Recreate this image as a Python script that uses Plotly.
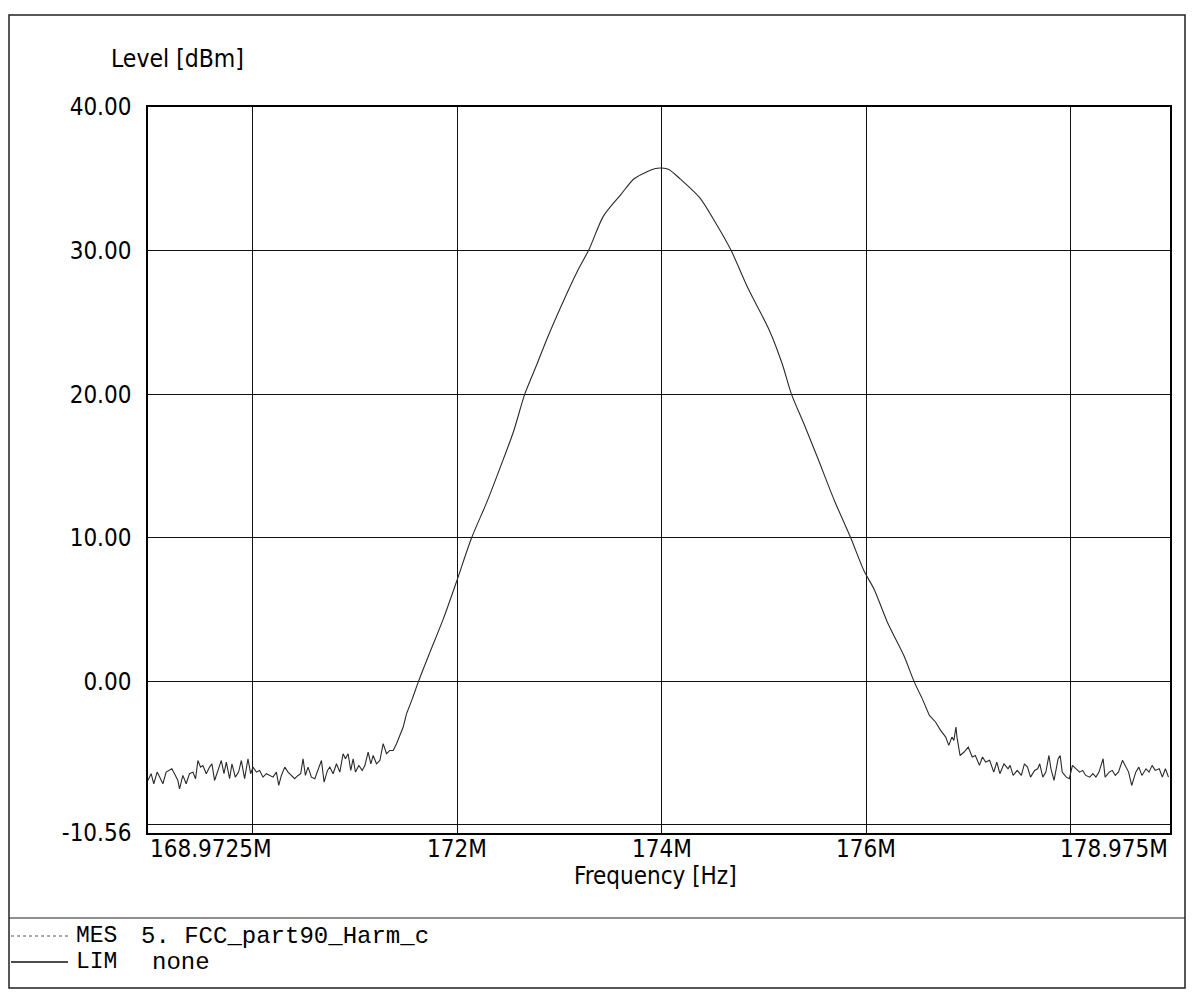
import plotly.graph_objects as go

# ---------------- data ----------------
freq_mhz = [
    168.971, 169.003, 169.029, 169.062, 169.095, 169.118, 169.150, 169.183, 169.206, 169.232,
    169.265, 169.281, 169.314, 169.346, 169.379, 169.412, 169.438, 169.461, 169.487, 169.510,
    169.543, 169.575, 169.598, 169.624, 169.657, 169.690, 169.716, 169.739, 169.771, 169.794,
    169.827, 169.859, 169.886, 169.918, 169.951, 169.977, 170.000, 170.033, 170.065, 170.098,
    170.131, 170.163, 170.196, 170.229, 170.252, 170.278, 170.311, 170.343, 170.376, 170.408,
    170.441, 170.467, 170.490, 170.513, 170.539, 170.572, 170.605, 170.637, 170.670, 170.696,
    170.729, 170.752, 170.784, 170.817, 170.850, 170.882, 170.905, 170.931, 170.957, 170.980,
    171.003, 171.036, 171.069, 171.095, 171.127, 171.154, 171.176, 171.209, 171.242, 171.274,
    171.307, 171.340, 171.372, 171.405, 171.438, 171.470, 171.503,
    171.56, 171.62, 171.73, 171.86, 171.99, 172.14, 172.29, 172.42, 172.55, 172.66,
    172.78, 172.88, 173.02, 173.17, 173.29, 173.43, 173.60, 173.73, 173.86, 173.94,
    174.00, 174.07, 174.18, 174.37, 174.53, 174.68, 174.85, 175.05, 175.18, 175.27,
    175.40, 175.53, 175.69, 175.85, 175.98, 176.08, 176.21, 176.37, 176.47, 176.55,
    176.62, 176.68, 176.73, 176.78, 176.81, 176.84, 176.86, 176.88, 176.89, 176.92,
    176.96, 177.00, 177.04, 177.07, 177.11, 177.14, 177.17, 177.21, 177.25, 177.28,
    177.31, 177.35, 177.39, 177.41, 177.44, 177.48, 177.52, 177.55, 177.58, 177.61,
    177.65, 177.68, 177.70, 177.73, 177.76, 177.79, 177.81, 177.84, 177.88, 177.90,
    177.92, 177.96, 177.99, 178.02, 178.06, 178.09, 178.12, 178.15, 178.19, 178.22,
    178.25, 178.28, 178.32, 178.34, 178.38, 178.41, 178.44, 178.47, 178.51, 178.54,
    178.57, 178.60, 178.64, 178.67, 178.70, 178.74, 178.77, 178.80, 178.83, 178.87,
    178.90, 178.93, 178.96,
]
level_dbm = [
    -6.90, -6.43, -7.13, -6.32, -6.78, -7.13, -6.32, -6.20, -6.08, -6.43,
    -6.90, -7.48, -6.55, -7.13, -6.43, -6.32, -6.78, -5.51, -5.97, -5.86,
    -6.43, -5.97, -5.74, -6.90, -6.20, -5.51, -6.43, -5.62, -6.78, -5.74,
    -6.67, -6.32, -5.51, -6.78, -5.39, -6.43, -5.97, -6.32, -6.20, -6.67,
    -6.43, -6.55, -6.67, -6.32, -7.25, -6.55, -5.97, -6.32, -6.55, -6.78,
    -6.55, -6.43, -5.39, -6.55, -5.97, -6.67, -6.78, -6.20, -5.51, -7.02,
    -6.20, -5.97, -6.43, -5.74, -6.32, -5.04, -5.39, -5.04, -6.20, -5.39,
    -6.32, -5.86, -6.20, -5.86, -4.93, -5.74, -5.16, -5.74, -5.51, -4.34,
    -5.04, -4.81, -4.81, -4.34, -3.76, -3.18, -2.25,
    -1.20, 0.00, 2.00, 4.30, 6.90, 10.00, 12.50, 14.90, 17.40, 20.00,
    22.10, 23.90, 26.20, 28.50, 30.10, 32.40, 33.90, 35.00, 35.50, 35.72,
    35.75, 35.65, 35.00, 33.70, 31.90, 30.00, 27.30, 24.50, 22.10, 20.00,
    17.80, 15.50, 12.60, 10.00, 7.70, 6.40, 4.10, 1.80, 0.00, -1.20,
    -2.37, -2.83, -3.41, -3.88, -4.46, -3.88, -4.11, -3.18, -3.88, -5.16,
    -4.92, -4.58, -5.27, -5.16, -5.85, -5.27, -5.62, -5.50, -6.32, -5.62,
    -6.43, -5.74, -6.09, -5.85, -6.55, -6.20, -6.55, -5.74, -5.97, -6.67,
    -6.20, -6.09, -5.74, -6.67, -6.32, -5.16, -6.09, -6.90, -5.39, -5.16,
    -6.32, -6.67, -6.78, -5.85, -6.09, -6.32, -6.20, -6.55, -6.67, -6.43,
    -6.67, -6.32, -5.39, -6.67, -6.32, -6.20, -6.55, -6.32, -5.50, -5.97,
    -6.32, -7.25, -6.32, -5.97, -6.55, -6.09, -6.32, -5.85, -6.20, -6.09,
    -6.67, -6.09, -6.67,
]

x_min, x_max = 168.9725, 178.975
y_min, y_max = -10.56, 40.0
x_grid = [170, 172, 174, 176, 178]
x_label_vals = [168.9725, 172, 174, 176, 178.975]
x_label_text = ["168.9725M", "172M", "174M", "176M", "178.975M"]
y_tick_vals = [40, 30, 20, 10, 0, -10, -10.56]
y_tick_text = ["40.00", "30.00", "20.00", "10.00", "0.00", "", "-10.56"]
legend_names = ["MES", "LIM"]
legend_desc = ["5. FCC_part90_Harm_c", "none"]

# ---------------- figure ----------------
OFF = 8                       # default page margin of the html body
W, H = 1194 - 2 * OFF, 997 - 2 * OFF
L, R, T, B = 148, 1170, 107, 833   # plot area in reference pixels
pw, ph = R - L, B - T

def px(xp):
    return (xp - L) / pw

def py(yp):
    return (B - yp) / ph

SANS = "DejaVu Sans Condensed, DejaVu Sans, sans-serif"
MONO = "Liberation Mono, Courier New, monospace"
line_style = dict(color="#2a2a2a", width=1.1)

# split sweep into noise / main lobe / noise for drawing
i1 = next(i for i, f in enumerate(freq_mhz) if f >= 171.5)
i2 = next(i for i, f in enumerate(freq_mhz) if f >= 176.55)

fig = go.Figure()
fig.add_trace(go.Scatter(x=freq_mhz[:i1 + 1], y=level_dbm[:i1 + 1], mode="lines",
                         line=line_style, showlegend=False))
fig.add_trace(go.Scatter(x=freq_mhz[i1:i2 + 1], y=level_dbm[i1:i2 + 1], mode="lines",
                         line=dict(shape="spline", smoothing=0.8, **line_style), showlegend=False))
fig.add_trace(go.Scatter(x=freq_mhz[i2:], y=level_dbm[i2:], mode="lines",
                         line=line_style, showlegend=False))

fig.update_layout(
    width=W, height=H,
    margin=dict(l=L - OFF, r=(W + OFF) - R, t=T - OFF, b=(H + OFF) - B),
    paper_bgcolor="white", plot_bgcolor="white",
    font=dict(family=SANS, color="black"),
    xaxis=dict(
        range=[x_min, x_max], tickvals=x_grid, showticklabels=False,
        showgrid=True, gridcolor="#111", gridwidth=1.4,
        showline=True, linecolor="black", linewidth=1.5, mirror=True,
        zeroline=False, ticks="",
    ),
    yaxis=dict(
        range=[y_min, y_max], tickvals=y_tick_vals, ticktext=y_tick_text,
        showgrid=True, gridcolor="#111", gridwidth=1.4,
        showline=True, linecolor="black", linewidth=1.5, mirror=True,
        zeroline=False, ticks="", ticklabelstandoff=10,
        tickfont=dict(family=SANS, size=24, color="black"),
    ),
)

# x tick labels
anchors = ["left", "center", "center", "center", "right"]
for v, t, a in zip(x_label_vals, x_label_text, anchors):
    fig.add_annotation(x=v, y=py(849), xref="x", yref="paper", text=t,
                       showarrow=False, xanchor=a, yanchor="middle",
                       font=dict(family=SANS, size=24, color="black"))

# axis titles
fig.add_annotation(x=px(109), y=py(58), xref="paper", yref="paper", text="Level [dBm]",
                   showarrow=False, xanchor="left", yanchor="middle",
                   font=dict(family=SANS, size=24.5, color="black"))
fig.add_annotation(x=(x_min + x_max) / 2 - 0.03, y=py(876), xref="x", yref="paper",
                   text="Frequency [Hz]", showarrow=False, xanchor="center", yanchor="middle",
                   font=dict(family=SANS, size=24, color="black"))

# outer frame & legend separator (frame clamped to the drawable page area)
fig.add_shape(type="rect", xref="paper", yref="paper",
              x0=px(9), x1=px(1185), y0=py(988), y1=py(15),
              line=dict(color="#222", width=1.5), layer="above")
fig.add_shape(type="line", xref="paper", yref="paper",
              x0=px(9), x1=px(1185), y0=py(918), y1=py(918),
              line=dict(color="#222", width=1.2))

# legend rows
row_y = [936, 962]
line_styles = [dict(color="#555", width=1, dash="dot"), dict(color="#111", width=1.3)]
for yy, name, ls in zip(row_y, legend_names, line_styles):
    fig.add_shape(type="line", xref="paper", yref="paper",
                  x0=px(11), x1=px(68), y0=py(yy), y1=py(yy), line=ls)
    fig.add_annotation(x=px(74), y=py(yy), xref="paper", yref="paper", text=name,
                       showarrow=False, xanchor="left", yanchor="middle",
                       font=dict(family=MONO, size=23, color="black"))
desc_x = [139, 150]
for yy, desc, dx in zip(row_y, legend_desc, desc_x):
    fig.add_annotation(x=px(dx), y=py(yy), xref="paper", yref="paper", text=desc,
                       showarrow=False, xanchor="left", yanchor="middle",
                       font=dict(family=MONO, size=24, color="black"))

fig.write_html("out.html")
